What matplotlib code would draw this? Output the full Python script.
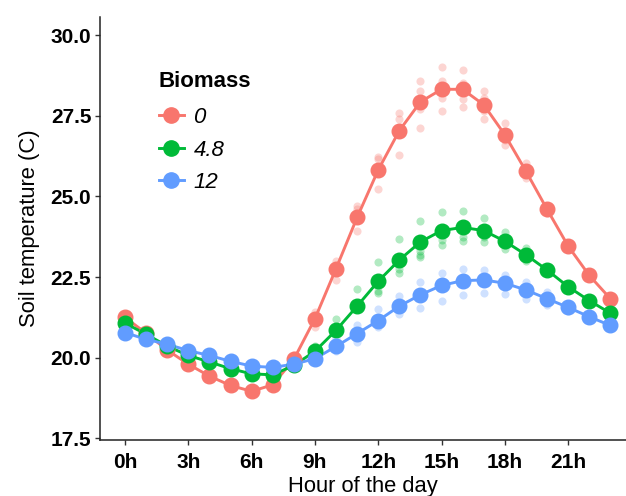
import matplotlib
matplotlib.use('Agg')
import matplotlib.pyplot as plt
from matplotlib.lines import Line2D

plt.rcParams['font.family'] = ['Liberation Sans', 'DejaVu Sans']

hours = list(range(24))
tick_hours = [0, 3, 6, 9, 12, 15, 18, 21]
tick_labels = ['0h', '3h', '6h', '9h', '12h', '15h', '18h', '21h']

biomass = ['0', '4.8', '12']
colors = ['#F8766D', '#00BA38', '#619CFF']

# hourly means per biomass level
mean_0 = [21.25, 20.76, 20.24, 19.80, 19.43, 19.14, 18.96, 19.16, 19.95, 21.21, 22.76, 24.35,
          25.82, 27.04, 27.93, 28.32, 28.32, 27.84, 26.91, 25.78, 24.60, 23.46, 22.55, 21.83]
mean_48 = [21.07, 20.73, 20.36, 20.07, 19.87, 19.66, 19.50, 19.47, 19.76, 20.20, 20.85, 21.60,
           22.37, 23.03, 23.59, 23.94, 24.04, 23.94, 23.61, 23.19, 22.72, 22.20, 21.77, 21.38]
mean_12 = [20.78, 20.57, 20.42, 20.22, 20.07, 19.89, 19.74, 19.70, 19.80, 19.97, 20.35, 20.75,
           21.15, 21.60, 21.95, 22.24, 22.39, 22.41, 22.31, 22.10, 21.83, 21.56, 21.27, 21.00]

# individual plots (only the ones visible outside the mean markers)
rep_hour_0 = [8, 8, 9, 9, 10, 10, 11, 11, 11, 12, 12, 12, 13, 13, 13, 14, 14, 14, 14,
              15, 15, 15, 15, 16, 16, 16, 16, 17, 17, 17, 17, 18, 18, 18, 19, 19, 20, 20,
              21, 21, 22, 22, 23, 23]
rep_val_0 = [20.10, 19.90, 21.43, 20.96, 23.01, 22.41, 24.70, 24.60, 23.92, 26.23, 26.17, 25.22,
             27.58, 27.41, 26.27, 28.57, 28.28, 27.72, 27.12, 29.00, 28.57, 28.05, 27.66,
             28.92, 28.52, 28.03, 27.77, 28.28, 28.05, 27.64, 27.41, 27.27, 26.75, 26.60,
             26.03, 25.57, 24.70, 24.50, 23.55, 23.40, 22.60, 22.50, 21.90, 21.80]

rep_hour_48 = [8, 9, 9, 10, 10, 11, 11, 12, 12, 12, 13, 13, 13, 14, 14, 14, 14, 15, 15, 15,
               16, 16, 16, 17, 17, 17, 18, 18, 18, 19, 19, 20, 20]
rep_val_48 = [19.85, 20.35, 20.10, 21.19, 20.90, 22.12, 21.55, 22.97, 22.08, 22.00,
              23.69, 22.74, 22.64, 24.23, 23.32, 23.17, 23.13, 24.52, 23.65, 23.50,
              24.56, 23.73, 23.63, 24.33, 23.73, 23.59, 23.90, 23.36, 23.50, 23.40, 22.99,
              22.80, 22.65]

rep_hour_12 = [9, 9, 10, 10, 11, 11, 12, 12, 13, 13, 14, 14, 15, 15, 16, 16, 17, 17,
               18, 18, 19, 19, 20, 20, 21, 21]
rep_val_12 = [20.10, 19.90, 20.60, 20.20, 21.00, 20.50, 21.50, 20.95, 21.91, 21.35,
              22.35, 21.54, 22.62, 21.77, 22.74, 21.95, 22.72, 22.01, 22.55, 21.97,
              22.35, 21.83, 22.04, 21.62, 21.65, 21.45]

means = [mean_0, mean_48, mean_12]
rep_hours = [rep_hour_0, rep_hour_48, rep_hour_12]
rep_vals = [rep_val_0, rep_val_48, rep_val_12]

fig = plt.figure(figsize=(6.26, 4.96), dpi=100)
ax = fig.add_axes([0.1602, 0.1129, 0.8398, 0.8534])

for i in range(3):
    ax.scatter(rep_hours[i], rep_vals[i], s=34, color=colors[i], alpha=0.3,
               linewidths=0, zorder=2)
for i in range(3):
    ax.plot(hours, means[i], color=colors[i], lw=2.1, zorder=3)
    ax.plot(hours, means[i], 'o', color=colors[i], ms=10.5, zorder=4)

ax.set_xlim(-1.17, 23.74)
ax.set_ylim(17.45, 30.57)
ax.set_xticks(tick_hours)
ax.set_xticklabels(tick_labels)
ax.set_yticks([17.5, 20.0, 22.5, 25.0, 27.5, 30.0])
ax.set_yticklabels(['17.5', '20.0', '22.5', '25.0', '27.5', '30.0'])

for s in ['top', 'right']:
    ax.spines[s].set_visible(False)
for s in ['left', 'bottom']:
    ax.spines[s].set_linewidth(1.1)
    ax.spines[s].set_color('#222222')
ax.tick_params(direction='out', length=3.5, width=1.0, color='#333333')
ax.tick_params(axis='x', pad=6)
ax.tick_params(axis='y', pad=3)
for lab in ax.get_xticklabels() + ax.get_yticklabels():
    lab.set_fontsize(15)
    lab.set_fontweight('bold')
    lab.set_color('black')

ax.set_xlabel('Hour of the day', fontsize=15.8, labelpad=3)
ax.set_ylabel('Soil temperature (C)', fontsize=15.8, labelpad=7.5)

handles = [Line2D([], [], color=c, lw=2.1, marker='o', ms=11) for c in colors]
leg = ax.legend(handles, biomass, title='Biomass', loc='upper left',
                bbox_to_anchor=(0.094, 0.893), frameon=False, borderaxespad=0,
                handlelength=1.15, handletextpad=0.42, labelspacing=0.51,
                prop={'style': 'italic', 'size': 16},
                title_fontproperties={'weight': 'bold', 'size': 16})
leg._legend_box.align = 'left'
leg._legend_box.sep = 11

plt.savefig('out.png', dpi=100)
plt.close()
